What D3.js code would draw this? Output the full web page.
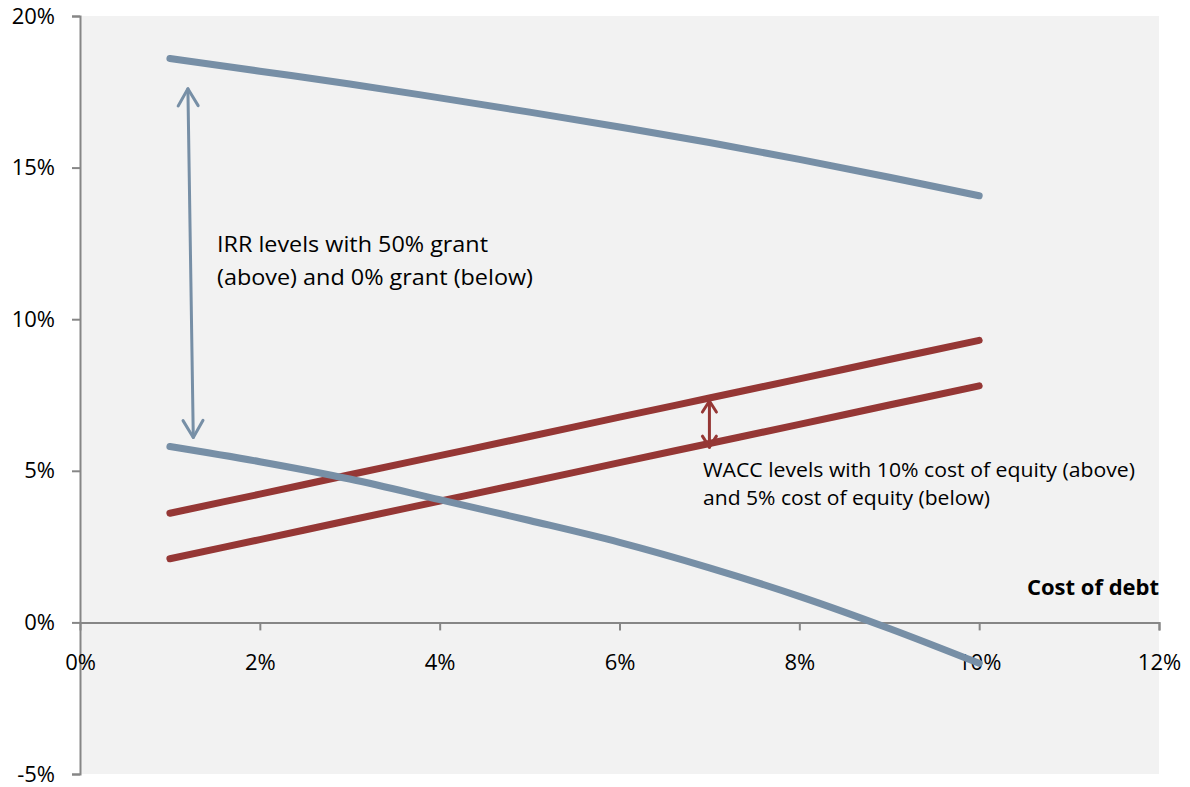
<!DOCTYPE html>
<html>
<head>
<meta charset="utf-8">
<script src="https://cdn.jsdelivr.net/npm/d3@7"></script>
<style>
  html, body { margin: 0; padding: 0; background: #fff; }
  svg text { font-family: "Open Sans", Lato, sans-serif; fill: #000; }
</style>
</head>
<body>
<svg id="chart" width="1190" height="787"></svg>
<script>
// Cost of debt (%) on the horizontal axis
const costOfDebt = [1, 2, 3, 4, 5, 6, 7, 8, 9, 10];

// Project IRR (%) with and without a 50% capital grant
const irrGrant50 = [18.6, 18.18, 17.76, 17.3, 16.83, 16.34, 15.83, 15.27, 14.68, 14.07];
const irrGrant0  = [5.8, 5.3, 4.73, 4.05, 3.36, 2.64, 1.8, 0.86, -0.2, -1.35];

// WACC (%) at 10% and 5% cost of equity
const wacc10 = [3.6, 4.23, 4.87, 5.5, 6.13, 6.77, 7.4, 8.03, 8.67, 9.3];
const wacc5  = [2.1, 2.73, 3.37, 4.0, 4.63, 5.27, 5.9, 6.53, 7.17, 7.8];

const xTicks = [0, 2, 4, 6, 8, 10, 12];
const yTicks = [-5, 0, 5, 10, 15, 20];

const svg = d3.select("#chart");
const x = d3.scaleLinear().domain([0, 12]).range([80, 1159]);
const y = d3.scaleLinear().domain([-5, 20]).range([774, 16]);

const blue = "#778fa6";
const red = "#953735";
const axisGrey = "#868686";

// plot area background
svg.append("rect")
  .attr("x", x(0)).attr("y", y(20))
  .attr("width", x(12) - x(0)).attr("height", y(-5) - y(20))
  .attr("fill", "#f2f2f2");

// vertical axis
const yAxis = svg.append("g")
  .attr("transform", `translate(${x(0)},0)`)
  .call(d3.axisLeft(y).tickValues(yTicks).tickSize(8).tickPadding(17)
    .tickFormat(d => d + "%"));
yAxis.select(".domain").attr("stroke", axisGrey).attr("stroke-width", 2);
yAxis.selectAll(".tick line").attr("stroke", axisGrey).attr("stroke-width", 2);
yAxis.selectAll(".tick text").attr("font-size", 22).attr("font-family", "Open Sans");

// horizontal axis at 0%
const xAxis = svg.append("g")
  .attr("transform", `translate(0,${y(0)})`)
  .call(d3.axisBottom(x).tickValues(xTicks).tickSize(8).tickSizeOuter(8).tickPadding(24)
    .tickFormat(d => d + "%"));
xAxis.select(".domain").attr("stroke", axisGrey).attr("stroke-width", 2);
xAxis.selectAll(".tick line").attr("stroke", axisGrey).attr("stroke-width", 2);
xAxis.selectAll(".tick text").attr("font-size", 22).attr("font-family", "Open Sans");
xAxis.selectAll(".tick").filter(d => d === 0).select("line").remove();

// axis title
svg.append("text")
  .attr("x", x(12) - 132).attr("y", 595)
  .attr("font-size", 21).attr("font-weight", "bold")
  .attr("textLength", 132).attr("lengthAdjust", "spacingAndGlyphs")
  .text("Cost of debt");

const line = d3.line()
  .x(d => x(d[0])).y(d => y(d[1]))
  .curve(d3.curveCatmullRom.alpha(0.5));

const series = [
  { values: wacc10, color: red },
  { values: wacc5, color: red },
  { values: irrGrant0, color: blue },
  { values: irrGrant50, color: blue }
];

svg.append("g").selectAll("path")
  .data(series)
  .join("path")
  .attr("d", s => line(costOfDebt.map((c, i) => [c, s.values[i]])))
  .attr("fill", "none")
  .attr("stroke", s => s.color)
  .attr("stroke-width", 7)
  .attr("stroke-linecap", "round")
  .attr("stroke-linejoin", "round");

// double-headed arrow with open chevron heads
function doubleArrow(x1, y1, x2, y2, color, width, headW, headL) {
  const px1 = x(x1), py1 = y(y1), px2 = x(x2), py2 = y(y2);
  const g = svg.append("g")
    .attr("stroke", color).attr("stroke-width", width)
    .attr("fill", "none").attr("stroke-linecap", "round").attr("stroke-linejoin", "round");
  g.append("line").attr("x1", px1).attr("y1", py1).attr("x2", px2).attr("y2", py2);
  const ang = Math.atan2(py2 - py1, px2 - px1);
  const head = (hx, hy, a) => {
    const bx = hx - headL * Math.cos(a), by = hy - headL * Math.sin(a);
    const nx = -Math.sin(a) * headW, ny = Math.cos(a) * headW;
    g.append("path").attr("d", `M${bx + nx},${by + ny}L${hx},${hy}L${bx - nx},${by - ny}`);
  };
  head(px2, py2, ang);
  head(px1, py1, ang + Math.PI);
}

doubleArrow(1.2, 17.6, 1.26, 6.1, blue, 3, 10, 17);
doubleArrow(7.0, 7.3, 7.0, 5.78, red, 3, 7, 11);

// annotations
const irrNote = svg.append("text").attr("font-size", 22);
irrNote.append("tspan").attr("x", 217).attr("y", 252)
  .attr("textLength", 271).attr("lengthAdjust", "spacingAndGlyphs")
  .text("IRR levels with 50% grant");
irrNote.append("tspan").attr("x", 217).attr("y", 285)
  .attr("textLength", 316).attr("lengthAdjust", "spacingAndGlyphs")
  .text("(above) and 0% grant (below)");

const waccNote = svg.append("text").attr("font-size", 20);
waccNote.append("tspan").attr("x", 703).attr("y", 477)
  .attr("textLength", 432).attr("lengthAdjust", "spacingAndGlyphs")
  .text("WACC levels with 10% cost of equity (above)");
waccNote.append("tspan").attr("x", 703).attr("y", 505)
  .attr("textLength", 287).attr("lengthAdjust", "spacingAndGlyphs")
  .text("and 5% cost of equity (below)");
</script>
</body>
</html>
